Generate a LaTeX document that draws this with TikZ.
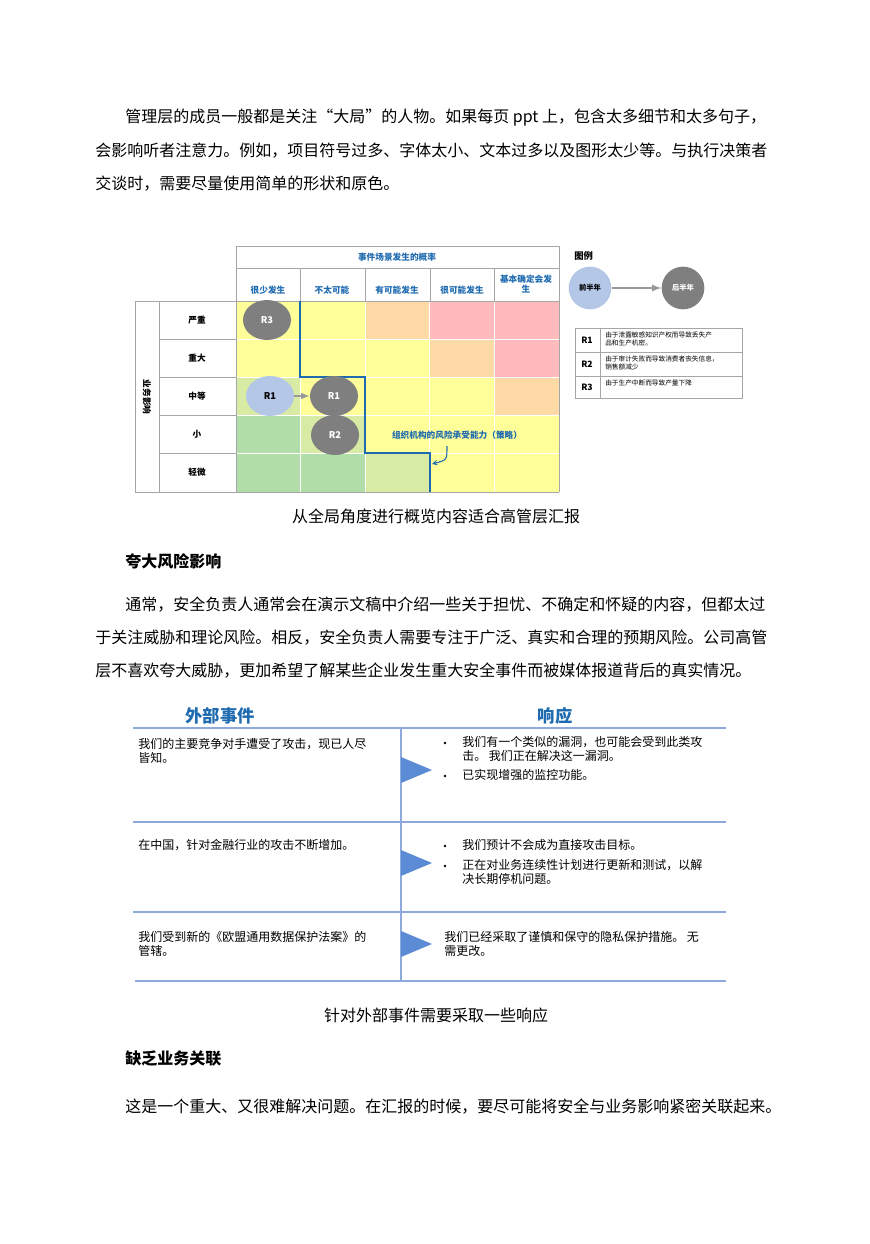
\documentclass[tikz,border=0pt]{standalone}
\usepackage{fontspec}
\usetikzlibrary{shapes.geometric}
\setmainfont{Noto Sans CJK SC}
\definecolor{cY}{HTML}{FFFF99}
\definecolor{cO}{HTML}{FDDAA6}
\definecolor{cP}{HTML}{FFBBBB}
\definecolor{cL}{HTML}{D7EBA5}
\definecolor{cG}{HTML}{B0DDA8}
\definecolor{blu}{HTML}{1F6BB0}
\definecolor{lb}{HTML}{B4C7E7}
\definecolor{gr}{HTML}{7F7F7F}
\definecolor{tl}{HTML}{8EA9DB}
\definecolor{tri}{HTML}{5B8BD4}
\begin{document}
\begin{tikzpicture}[x=0.75pt,y=-0.75pt,
 body/.style={anchor=west,inner sep=0,font=\fontsize{12}{14}\selectfont},
 captxt/.style={inner sep=0,font=\fontsize{12}{14}\selectfont},
 head/.style={anchor=west,inner sep=0,font=\fontsize{12}{14}\selectfont\bfseries},
 sm/.style={inner sep=0,font=\fontsize{6.5}{8}\selectfont\bfseries},
 colh/.style={sm,text=blu},
 gc/.style={ellipse,fill=gr,minimum width=36,minimum height=30,inner sep=0,text=white,font=\fontsize{7}{8}\selectfont\bfseries},
 tt/.style={anchor=north west,inner sep=0,align=left,font=\fontsize{9}{10.5}\selectfont},
 lt/.style={anchor=west,inner sep=0,align=left,font=\fontsize{5}{6}\selectfont},
]
\useasboundingbox[fill=white] (0,0) rectangle (869,1244);
% paragraph 1
\node[body] (p1) at (125,118) {管理层的成员一般都是关注“大局”的人物。如果每页 ppt 上，包含太多细节和太多句子，};
\node[body] (p2) at (95,151) {会影响听者注意力。例如，项目符号过多、字体太小、文本过多以及图形太少等。与执行决策者};
\node[body] (p3) at (95,184) {交谈时，需要尽量使用简单的形状和原色。};
% matrix cells
\foreach \r/\ya/\yb/\cs in {1/301/339/{cY,cY,cO,cP,cP},2/339/377/{cY,cY,cY,cO,cP},3/377/415/{cL,cY,cY,cY,cO},4/415/453/{cG,cL,cY,cY,cY},5/453/492/{cG,cG,cL,cY,cY}}{
  \foreach \c [count=\i] in \cs {
    \pgfmathsetmacro\xa{236+(\i-1)*64.6}
    \pgfmathsetmacro\xb{236+\i*64.6}
    \fill[\c,draw=white,line width=0.6pt] (\xa,\ya) rectangle (\xb,\yb);
  }
}
\draw[gray!70,line width=0.5pt] (236,246) rectangle (559,268) (236,268) -- (236,301) -- (559,301) -- (559,268);
\foreach \x in {300,365,430,494}{\draw[gray!70,line width=0.5pt] (\x,268)--(\x,301);}
\draw[gray!70,line width=0.5pt] (135,301) rectangle (236,492) (159,301)--(159,492);
\foreach \y in {339,377,415,453}{\draw[gray!70,line width=0.5pt] (159,\y)--(236,\y);}
\draw[gray!70,line width=0.5pt] (236,492)--(559,492) (559,301)--(559,492);
\node[colh] (t0) at (397,257) {事件场景发生的概率};
\node[colh] (c1) at (268,290) {很少发生};
\node[colh] (c2) at (332,290) {不太可能};
\node[colh] (c3) at (397,290) {有可能发生};
\node[colh] (c4) at (462,290) {很可能发生};
\node[colh,align=center] (c5) at (526,284) {基本确定会发\\生};
\node[sm] (r1) at (197,320) {严重};
\node[sm] (r2) at (197,358) {重大};
\node[sm] (r3) at (197,396) {中等};
\node[sm] (r4) at (197,434) {小};
\node[sm] (r5) at (197,472) {轻微};
\node[sm,rotate=-90] (yl) at (147,397) {业务影响};
\draw[blu,line width=1.2pt] (300,301)--(300,377)--(365,377)--(365,453)--(430,453)--(430,492);
\node[inner sep=0,text=blu,font=\fontsize{6.5}{8}\selectfont\bfseries] (ann) at (457,435) {组织机构的风险承受能力（策略）};
\coordinate (annend) at (432,464);
\draw[blu,line width=0.8pt,-stealth] (447,446) .. controls (447,460) .. (annend);
\node[gc] (R3) at (267,320) {R3};
\node[gc,fill=lb,text=black] (R1a) at (270,396) {R1};
\node[gc] (R1b) at (334,396) {R1};
\node[gc] (R2) at (335,435) {R2};
\draw[gray!80,line width=1.2pt,-latex] (R1a) -- (R1b);
% legend
\node[anchor=west,inner sep=0,font=\fontsize{7}{8}\selectfont\bfseries] (lg) at (574,256) {图例};
\node[circle,fill=lb,minimum size=32,inner sep=0,font=\fontsize{5.5}{6}\selectfont\bfseries] (h1) at (590,288) {前半年};
\node[circle,fill=gr,minimum size=32,inner sep=0,text=white,font=\fontsize{5.5}{6}\selectfont\bfseries] (h2) at (683,288) {后半年};
\draw[gray!80,line width=1.4pt,-latex] (h1) -- (h2);
\draw[gray!70,line width=0.6pt] (575,328) rectangle (742,398) (600,328)--(600,398) (575,352)--(742,352) (575,376)--(742,376);
\node[inner sep=0,font=\fontsize{6.5}{8}\selectfont\bfseries] (k1) at (587,340) {R1};
\node[inner sep=0,font=\fontsize{6.5}{8}\selectfont\bfseries] (k2) at (587,364) {R2};
\node[inner sep=0,font=\fontsize{6.5}{8}\selectfont\bfseries] (k3) at (587,387) {R3};
\node[lt] (d1) at (605,339) {由于泄露敏感知识产权而导致丢失产\\品和生产机密。};
\node[lt] (d2) at (605,363) {由于审计失败而导致消费者丧失信息，\\销售额减少};
\node[lt] (d3) at (605,383) {由于生产中断而导致产量下降};
\node[captxt] (cap1) at (436,516) {从全局角度进行概览内容适合高管层汇报};
% section 2
\node[head] (h2a) at (125,561) {夸大风险影响};
\node[body] (q1) at (125,605) {通常，安全负责人通常会在演示文稿中介绍一些关于担忧、不确定和怀疑的内容，但都太过};
\node[body] (q2) at (95,638) {于关注威胁和理论风险。相反，安全负责人需要专注于广泛、真实和合理的预期风险。公司高管};
\node[body] (q3) at (95,671) {层不喜欢夸大威胁，更加希望了解某些企业发生重大安全事件而被媒体报道背后的真实情况。};
% table
\node[inner sep=0,text=blu,font=\fontsize{13}{15}\selectfont\bfseries] (th1) at (220,716) {外部事件};
\node[inner sep=0,text=blu,font=\fontsize{13}{15}\selectfont\bfseries] (th2) at (555,716) {响应};
\draw[tl,line width=1.2pt] (133,728)--(726,728) (133,822)--(726,822) (133,912)--(726,912) (135,981)--(726,981) (401,728)--(401,981);
\foreach \y in {770,863,944}{\fill[tri] (401,\y-13) -- (432,\y) -- (401,\y+13) -- cycle;}
\node[tt] (a1) at (138,738) {我们的主要竞争对手遭受了攻击，现已人尽\\皆知。};
\node[tt] (a2) at (138,839) {在中国，针对金融行业的攻击不断增加。};
\node[tt] (a3) at (138,931) {我们受到新的《欧盟通用数据保护法案》的\\管辖。};
\node[tt] (b1) at (462,736) {我们有一个类似的漏洞，也可能会受到此类攻\\击。 我们正在解决这一漏洞。};
\node[tt] (b2) at (462,769) {已实现增强的监控功能。};
\node[tt] (b3) at (462,839) {我们预计不会成为直接攻击目标。};
\node[tt] (b4) at (462,859) {正在对业务连续性计划进行更新和测试，以解\\决长期停机问题。};
\node[tt] (b5) at (444,931) {我们已经采取了谨慎和保守的隐私保护措施。 无\\需更改。};
\foreach \y in {743,776,846,866}{\fill (445,\y) circle (1.3);}
\node[captxt] (cap2) at (436,1015) {针对外部事件需要采取一些响应};
\node[head] (h3) at (125,1059) {缺乏业务关联};
\node[body] (s1) at (125,1107) {这是一个重大、又很难解决问题。在汇报的时候，要尽可能将安全与业务影响紧密关联起来。};
\end{tikzpicture}
\end{document}
